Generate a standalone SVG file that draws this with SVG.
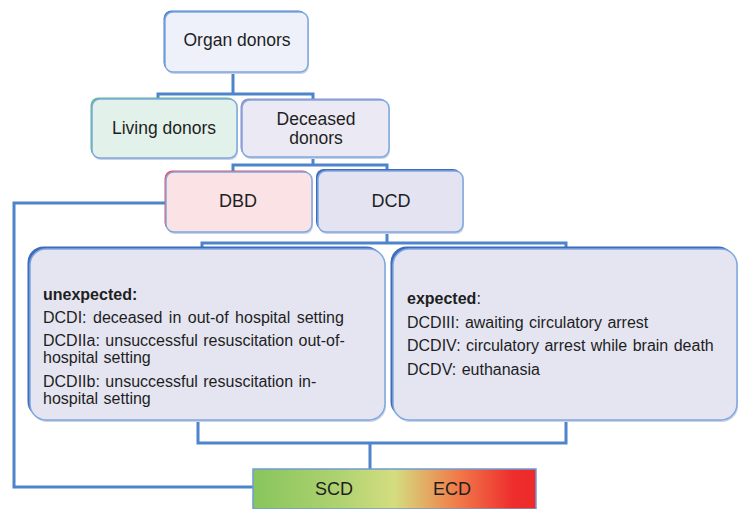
<svg xmlns="http://www.w3.org/2000/svg" width="739" height="509" viewBox="0 0 739 509">
<defs>
<style>
.lbl{font-family:"Liberation Sans",Arial,sans-serif;fill:#1e1e1e;}
.big{font-size:17.5px;text-anchor:middle;}
.txt{font-size:16px;word-spacing:1px;}
.b{font-weight:bold;}
.conn{fill:none;stroke:#4d84cc;stroke-width:3;}
.edge{stroke:#7fa8e0;stroke-width:1.5;}
.shadow{fill:#c9d3e6;}
</style>
<linearGradient id="bar" x1="0" y1="0" x2="1" y2="0">
<stop offset="0" stop-color="#88c55c"/>
<stop offset="0.3" stop-color="#aed270"/>
<stop offset="0.5" stop-color="#d4dd80"/>
<stop offset="0.72" stop-color="#f07c4a"/>
<stop offset="0.92" stop-color="#ee2d2d"/>
<stop offset="1" stop-color="#ee2a2a"/>
</linearGradient>
</defs>

<g id="connectors">
<path class="conn" d="M233,72 V94 M158,99 V94 H313 V100"/>
<path class="conn" d="M313,157 V165 M233,172 V165 H387 V171"/>
<path class="conn" d="M387,232 V243 M202,249 V243 H566 V249"/>
<path class="conn" d="M198,420 V443 H566 V420 M370,443 V469"/>
<path class="conn" d="M166,203 H14 V487 H253"/>
</g>

<g id="organ-donors">
<rect class="shadow" x="166" y="14" width="143" height="60" rx="8"/>
<rect x="163.5" y="10.5" width="143" height="60" rx="8" fill="#4a7cc6"/>
<rect x="165" y="12" width="143" height="60" rx="8" fill="#eef1fa" class="edge"/>
<text class="lbl big" x="237" y="46">Organ donors</text>
</g>

<g id="living-donors">
<rect class="shadow" x="93" y="101" width="145" height="59" rx="8"/>
<rect x="90.5" y="97.5" width="145" height="59" rx="8" fill="#5cba86"/>
<rect x="92" y="99" width="145" height="59" rx="8" fill="#e2f1ea" class="edge"/>
<text class="lbl big" x="164" y="134">Living donors</text>
</g>

<g id="deceased-donors">
<rect class="shadow" x="243" y="102" width="147" height="57" rx="8"/>
<rect x="240.5" y="98.5" width="147" height="57" rx="8" fill="#9a8cc6"/>
<rect x="242" y="100" width="147" height="57" rx="8" fill="#ebe9f4" class="edge"/>
<text class="lbl big" x="316" y="125">Deceased</text>
<text class="lbl big" x="316" y="144">donors</text>
</g>

<g id="dbd">
<rect class="shadow" x="167" y="174" width="146" height="60" rx="8"/>
<rect x="164.5" y="170.5" width="146" height="60" rx="8" fill="#e8525c"/>
<rect x="166" y="172" width="146" height="60" rx="8" fill="#fbe2e5" class="edge"/>
<text class="lbl big" x="238" y="207" style="font-size:18px">DBD</text>
</g>

<g id="dcd">
<rect class="shadow" x="319" y="173" width="145" height="61" rx="8"/>
<rect x="316" y="169" width="145" height="61" rx="8" fill="#3f6bbd"/>
<rect x="318" y="171" width="145" height="61" rx="8" fill="#e3e3f1" class="edge"/>
<text class="lbl big" x="391" y="207" style="font-size:18px">DCD</text>
</g>

<g id="unexpected">
<rect class="shadow" x="31" y="251" width="355" height="171" rx="16"/>
<rect x="27.5" y="246.5" width="355" height="171" rx="16" fill="#3f6bbd"/>
<rect x="30" y="249" width="355" height="171" rx="16" fill="#e5e5f2" class="edge"/>
<text class="lbl txt b" x="43" y="300">unexpected:</text>
<text class="lbl txt" x="43" y="323" style="word-spacing:2px">DCDI:  deceased in out-of hospital setting</text>
<text class="lbl txt" x="43" y="346">DCDIIa:  unsuccessful resuscitation out-of-</text>
<text class="lbl txt" x="43" y="363">hospital setting</text>
<text class="lbl txt" x="43" y="387">DCDIIb:  unsuccessful resuscitation in-</text>
<text class="lbl txt" x="43" y="404">hospital setting</text>
</g>

<g id="expected">
<rect class="shadow" x="394" y="251" width="344" height="171" rx="16"/>
<rect x="390.5" y="246.5" width="344" height="171" rx="16" fill="#3f6bbd"/>
<rect x="393" y="249" width="344" height="171" rx="16" fill="#e5e5f2" class="edge"/>
<text class="lbl txt" x="407" y="304"><tspan class="b">expected</tspan>:</text>
<text class="lbl txt" x="407" y="328">DCDIII:  awaiting circulatory arrest</text>
<text class="lbl txt" x="407" y="351">DCDIV:  circulatory arrest while brain death</text>
<text class="lbl txt" x="407" y="375">DCDV:  euthanasia</text>
</g>

<g id="scd-ecd">
<rect x="253" y="469" width="283" height="40" fill="url(#bar)" stroke="#6f9bd6" stroke-width="1.5"/>
<text class="lbl big" x="334" y="495" style="font-size:18px">SCD</text>
<text class="lbl big" x="452" y="495" style="font-size:18px">ECD</text>
</g>
</svg>
